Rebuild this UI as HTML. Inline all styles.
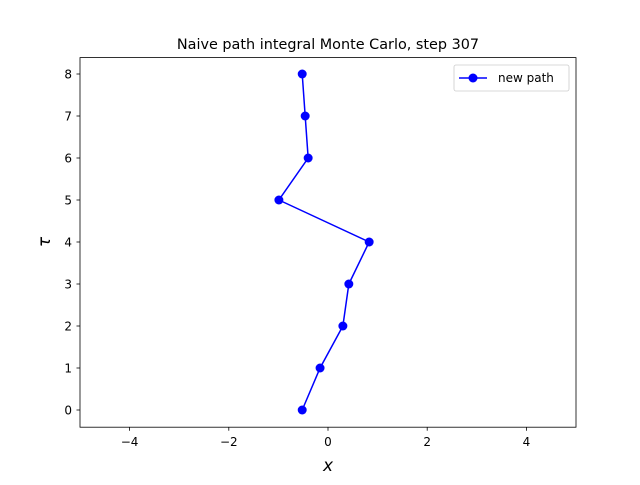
<!DOCTYPE html>
<html><head><meta charset="utf-8"><style>
body{margin:0;background:#fff;font-family:"Liberation Sans","DejaVu Sans",sans-serif}
text{font-family:"DejaVu Sans","Liberation Sans",sans-serif}
</style></head><body>
<svg id="chart" width="640" height="480" xmlns="http://www.w3.org/2000/svg">
<rect width="640" height="480" fill="#fff"/>
<text x="328" y="49" text-anchor="middle" font-size="14.4">Naive path integral Monte Carlo, step 307</text>
<g id="axes"></g>
<g id="series"></g>
<rect x="80" y="57.6" width="496" height="369.6" fill="none" stroke="#000" stroke-width="0.8"/>
<text x="328" y="471" text-anchor="middle" font-size="17" font-style="italic">x</text>
<text transform="translate(50,242) rotate(-90)" text-anchor="middle" font-size="17" font-style="italic">τ</text>
<g>
<rect x="454" y="65" width="115" height="26" rx="2" fill="#fff" stroke="#ccc" stroke-width="0.8"/>
<line x1="459" y1="78" x2="487" y2="78" stroke="#0000ff" stroke-width="1.5"/>
<circle cx="473" cy="78" r="4.5" fill="#0000ff"/>
<text x="498" y="82" font-size="12">new path</text>
</g>
</svg>
<script>
const tauValues=[0,1,2,3,4,5,6,7,8];
const xValues=[-0.52,-0.16,0.30,0.42,0.83,-0.99,-0.40,-0.46,-0.52];
const xTicks=[-4,-2,0,2,4];
const yTicks=[0,1,2,3,4,5,6,7,8];
const NS="http://www.w3.org/2000/svg";
const sx=v=>80+(v+5)/10*496;
const sy=v=>410-v*42;
function mk(t,a,p){const e=document.createElementNS(NS,t);for(const k in a)e.setAttribute(k,a[k]);p.appendChild(e);return e;}
const ax=document.getElementById('axes');
xTicks.forEach(t=>{
 const l=mk('line',{x1:sx(t),x2:sx(t),y1:427.2,y2:430.7,stroke:'#000','stroke-width':0.8},ax);
 
 
 const tx=mk('text',{x:sx(t),y:446,'text-anchor':'middle','font-size':12},ax);
 tx.textContent=(t<0?'−'+(-t):t);
 
 
});
yTicks.forEach(t=>{
 const l=mk('line',{x1:76.5,x2:80,y1:sy(t),y2:sy(t),stroke:'#000','stroke-width':0.8},ax);
 
 
 const tx=mk('text',{x:72,y:sy(t)+4.5,'text-anchor':'end','font-size':12},ax);
 tx.textContent=t;
 
 
});
const sg=document.getElementById('series');
const pl=mk('polyline',{points:xValues.map((x,i)=>sx(x)+','+sy(tauValues[i])).join(' '),fill:'none',stroke:'#0000ff','stroke-width':1.5},sg);


xValues.forEach((x,i)=>{
 const c=mk('circle',{cx:sx(x),cy:sy(tauValues[i]),r:4.5,fill:'#0000ff'},sg);
 
 
});
</script>
</body></html>
